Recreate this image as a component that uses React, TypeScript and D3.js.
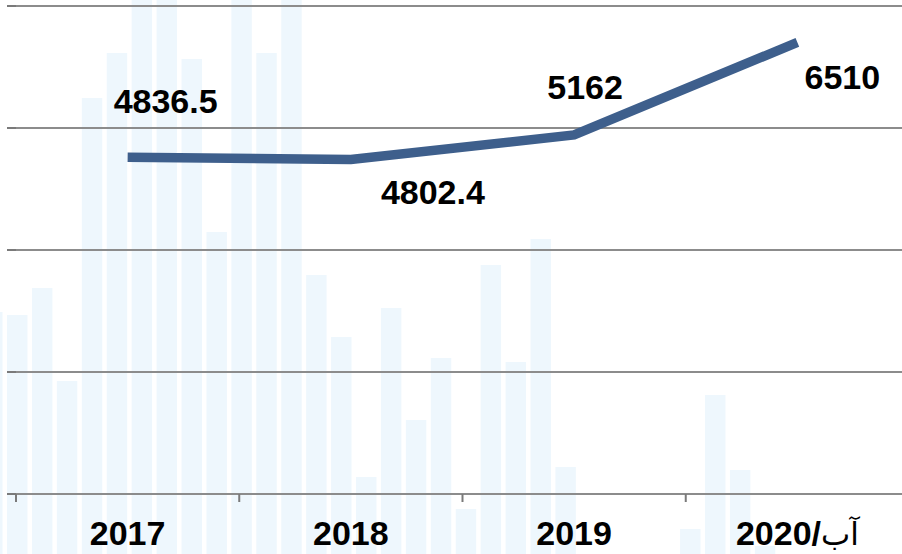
import React from "react";
import * as d3 from "d3";

// chart data
const years = ["2017", "2018", "2019", "2020"];
const yearLabels = ["2017", "2018", "2019", "2020/"];
const yearSuffix = ["", "", "", "آب"];
const values = [4836.5, 4802.4, 5162, 6510];

// faint decorative columns behind the chart (index -1 .. 30)
const bgIndex = d3.range(-1, 31);
const bgValues = [
  242, 239, 266, 173, 456, 501, 560, 560, 495, 322, 560, 501, 560, 279, 217, 77,
  246, 134, 196, 45, 289, 192, 315, 87, 0, 0, 0, 0, 25, 159, 84, 8,
];

// where each value label sits relative to its point
const labelOffsets = [
  [38, -44],
  [82, 44],
  [11, -36],
  [45, 47],
];

const width = 902;
const height = 554;
const font = "'Liberation Sans', Arial, 'DejaVu Sans', sans-serif";

const App = () => {
  const axisY = 494;
  const top = 6;
  const yMin = -70;
  const yMax = 7040;

  const xScale = d3.scaleBand().domain(years).range([16, 909]);
  const yScale = d3.scaleLinear().domain([yMin, yMax]).range([axisY, top]);
  const gridValues = d3.range(5).map((i) => yMin + (i * (yMax - yMin)) / 4);

  const bgX = d3
    .scaleBand<number>()
    .domain(bgIndex)
    .range([-17.9, 775.3])
    .paddingInner(0.18)
    .paddingOuter(0)
    .align(0);
  const bgY = d3.scaleLinear().domain([0, height]).range([height, 0]);

  const cx = (d: string) => (xScale(d) as number) + xScale.bandwidth() / 2;

  const line = d3
    .line<number>()
    .x((_, i) => cx(years[i]))
    .y((d) => yScale(d));

  const tickX = years.map((d) => xScale(d) as number);

  return (
    <svg
      width={width}
      height={height}
      style={{ position: "absolute", left: 0, top: 0, display: "block", background: "#fff" }}
    >
      {/* background columns */}
      <g>
        {bgIndex.map((d, i) =>
          bgValues[i] > 0 ? (
            <rect
              key={d}
              x={bgX(d)}
              y={bgY(bgValues[i])}
              width={bgX.bandwidth()}
              height={height - bgY(bgValues[i])}
              fill="#eef7fd"
            />
          ) : null
        )}
      </g>

      {/* grid lines */}
      <g>
        {gridValues.map((v) => (
          <g key={v}>
            <line x1={16} x2={width} y1={yScale(v)} y2={yScale(v)} stroke="#8c8c8c" strokeWidth={2} />
            <line x1={7} x2={16} y1={yScale(v)} y2={yScale(v)} stroke="#7a7a7a" strokeWidth={2} />
          </g>
        ))}
      </g>

      {/* x axis ticks */}
      <g>
        {tickX.map((x) => (
          <line key={x} x1={x} x2={x} y1={axisY} y2={axisY + 8} stroke="#7a7a7a" strokeWidth={2} />
        ))}
        {years.map((d, i) => (
          <text
            key={d}
            x={cx(d)}
            y={545}
            textAnchor="middle"
            fontFamily={font}
            fontWeight="bold"
            fontSize={34}
            fill="#000"
          >
            {yearLabels[i]}
            {yearSuffix[i] ? (
              <tspan fontWeight="normal" fontFamily="'DejaVu Sans', sans-serif" fontSize={31}>
                {yearSuffix[i]}
              </tspan>
            ) : null}
          </text>
        ))}
      </g>

      {/* the series */}
      <path
        d={line(values) || ""}
        fill="none"
        stroke="#3e5f8c"
        strokeWidth={9.5}
        strokeLinejoin="miter"
        strokeLinecap="butt"
      />

      {/* value labels */}
      <g>
        {values.map((v, i) => (
          <text
            key={i}
            x={cx(years[i]) + labelOffsets[i][0]}
            y={yScale(v) + labelOffsets[i][1]}
            textAnchor="middle"
            fontFamily={font}
            fontWeight="bold"
            fontSize={34}
            fill="#000"
          >
            {String(v)}
          </text>
        ))}
      </g>
    </svg>
  );
};

export default App;
